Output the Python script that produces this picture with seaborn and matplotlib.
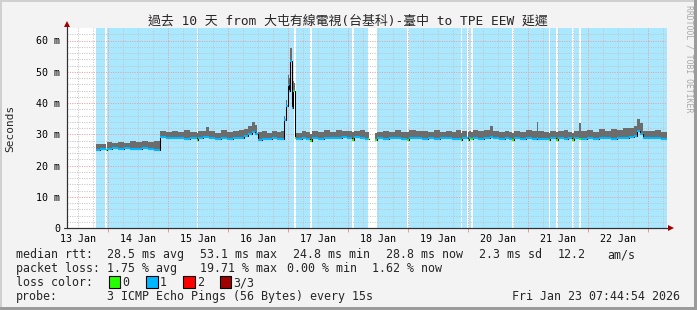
import numpy as np
import pandas as pd
import matplotlib
matplotlib.use("Agg")
import matplotlib.pyplot as plt
import matplotlib.dates as mdates
from matplotlib.patches import Rectangle
import seaborn as sns

# ---------------- data ----------------
start_time = "2026-01-13 07:44:54"
span_hours = 240
data_end_hours = 239.9
y_max_ms = 64

# segment start (hours since start), median rtt (ms), top of smoke (ms), loss level
seg_hours = [11.6, 13.2, 15.4, 15.8, 18.0, 20.4, 22.8, 25.2, 27.6, 30.0, 32.4, 34.8,
             37.0, 39.6, 42.0, 44.4, 46.8, 49.2, 51.9, 52.4, 54.4, 55.6, 56.8, 59.2,
             61.6, 64.0, 66.4, 68.8, 70.8, 72.4, 74.0, 75.2, 76.2, 78.0, 80.0, 82.0,
             84.0, 85.6, 86.9, 87.4, 88.2, 88.8, 89.2, 89.8, 90.2, 90.9, 91.3, 91.7,
             94.0, 95.6, 97.2, 97.9, 100.4, 102.8, 105.2, 107.6, 110.0, 112.0, 113.9, 114.8,
             117.2, 119.2, 120.5, 120.9, 123.2, 124.1, 126.4, 128.8, 131.2, 133.6, 136.1, 136.9,
             139.6, 142.0, 144.4, 146.8, 149.2, 151.6, 154.0, 155.6, 157.4, 158.0, 160.2, 160.8,
             161.6, 162.2, 164.4, 166.8, 169.0, 170.4, 172.8, 175.2, 176.8, 177.9, 178.8, 181.2,
             183.6, 186.0, 187.8, 188.4, 190.8, 192.8, 193.2, 195.6, 196.4, 198.8, 200.4, 201.9,
             202.7, 204.8, 205.4, 208.0, 210.4, 212.8, 215.2, 217.6, 220.0, 222.4, 224.8, 226.8,
             228.0, 229.2, 230.4, 232.8, 235.2, 237.6]
median_ms = [25.0, 25.3, 24.9, 25.2, 25.5, 25.3, 25.6, 25.4, 25.2, 25.6, 25.4, 25.0,
             29.0, 28.8, 28.7, 28.9, 28.6, 28.8, 28.3, 28.8, 29.0, 29.2, 28.7, 28.6,
             28.8, 28.6, 28.7, 28.9, 29.3, 30.0, 30.6, 30.2, 28.3, 28.5, 28.4, 28.7,
             28.5, 28.6, 34.6, 38.9, 45.8, 44.0, 53.3, 38.3, 43.7, 43.7, 28.7, 28.6,
             28.8, 28.5, 28.0, 28.7, 28.6, 28.9, 28.7, 28.8, 29.0, 28.9, 28.2, 29.0,
             28.8, 28.5, 28.6, np.nan, 28.3, 28.8, 28.6, 28.9, 28.7, 28.5, 28.3, 28.7,
             28.9, 28.6, 28.8, 28.5, 28.7, 28.9, 28.4, 28.6, 28.2, 28.7, 28.3, 28.8,
             28.4, 28.7, 28.6, 28.9, 29.1, 28.7, 28.6, 28.8, 28.5, 28.2, 28.7, 28.6,
             28.8, 28.5, 28.7, 28.6, 28.4, 28.3, 28.7, 28.2, 28.8, 28.6, 28.7, 28.2,
             28.8, 28.6, 28.6, 28.8, 28.5, 28.9, 28.7, 28.6, 28.9, 28.7, 29.0, 29.6,
             31.2, 30.0, 28.8, 28.7, 28.9, 28.6]
smoke_top_ms = [27.0, 26.8, 26.9, 27.4, 27.2, 27.6, 27.3, 27.8, 27.5, 28.0, 27.6, 27.9,
                31.0, 30.6, 31.2, 30.8, 31.4, 30.7, 30.4, 30.9, 31.2, 32.4, 31.0, 30.5,
                31.3, 30.6, 30.9, 31.4, 31.8, 32.8, 34.0, 33.0, 30.8, 31.2, 30.5, 31.0,
                30.7, 31.1, 36.0, 41.0, 49.0, 48.0, 57.5, 40.0, 47.0, 46.5, 30.6, 30.5,
                31.0, 30.6, 30.2, 31.2, 30.7, 31.3, 30.8, 31.5, 30.9, 31.2, 30.6, 31.0,
                31.4, 30.6, 30.8, np.nan, 30.5, 30.7, 31.0, 30.7, 31.3, 30.8, 30.6, 31.5,
                30.9, 31.2, 30.7, 31.4, 30.8, 31.1, 30.6, 31.3, 30.4, 31.0, 30.6, 31.2,
                30.8, 31.4, 30.9, 31.3, 32.8, 31.0, 30.6, 31.2, 30.7, 30.4, 31.1, 30.8,
                31.3, 30.9, 34.0, 31.0, 30.7, 30.5, 31.2, 30.6, 31.0, 31.4, 30.8, 30.5,
                31.2, 33.5, 31.0, 31.5, 30.8, 31.6, 31.0, 31.7, 31.4, 31.9, 32.0, 32.8,
                34.8, 33.5, 31.2, 30.9, 31.3, 30.8]
loss_level = [1, 1, 0, 1, 1, 1, 1, 1, 1, 1, 1, 1,
              1, 1, 1, 1, 1, 1, 0, 1, 1, 1, 1, 1,
              1, 1, 1, 1, 1, 1, 1, 1, 1, 1, 1, 1,
              1, 1, 1, 1, 1, 1, 1, 1, 1, 0, 0, 1,
              1, 1, 0, 1, 1, 1, 1, 1, 1, 1, 0, 1,
              1, 1, 0, 0, 0, 1, 1, 1, 1, 1, 0, 1,
              1, 1, 1, 1, 1, 1, 1, 1, 0, 1, 0, 1,
              0, 1, 1, 1, 1, 1, 1, 1, 1, 0, 1, 1,
              1, 1, 1, 1, 1, 0, 1, 0, 1, 1, 1, 0,
              1, 0, 1, 1, 1, 1, 1, 1, 1, 1, 1, 1,
              1, 1, 1, 1, 1, 1]

loss_colors = ["#26ff00", "#00b8ff", "#ff0000", "#a00000"]
loss_labels = ["0", "1", "2", "3/3"]

title_text = "過去 10 天 from 大屯有線電視(台基科)-臺中 to TPE EEW 延遲"
stats_rtt = ["median rtt:", "28.5 ms avg", "53.1 ms max", "24.8 ms min",
             "28.8 ms now", "2.3 ms sd", "12.2", "am/s"]
stats_loss = ["packet loss:", "1.75 % avg", "19.71 % max", "0.00 % min", "1.62 % now"]
probe_text = ["probe:", "3 ICMP Echo Pings (56 Bytes) every 15s"]
stamp_text = "Fri Jan 23 07:44:54 2026"

# ---------------- style ----------------
W, H = 697, 310
sns.set_theme(style="white")
plt.rcParams["font.family"] = ["DejaVu Sans Mono", "Noto Sans CJK TC"]

BG = "#f3f3f3"
LOSS_BG = "#aae8ff"
SMOKE = "#6c6c6c"
GRID_MINOR = "#c4c4c4"
GRID_MAJOR = "#f29a9a"
AXIS = "#303030"
ARROW = "#a00000"

fig = plt.figure(figsize=(W / 100, H / 100), dpi=100, facecolor=BG)
ax = fig.add_axes([67 / W, (H - 228) / H, 600 / W, 200 / H])
ax.set_facecolor("white")

t0 = pd.Timestamp(start_time)
h = np.array(seg_hours, float)
edges_h = np.append(h, data_end_hours)
x_edges = mdates.date2num(t0 + pd.to_timedelta(edges_h, unit="h"))
x0, x1 = x_edges[:-1], x_edges[1:]
med = np.array(median_ms, float)
top = np.array(smoke_top_ms, float)
loss = np.array(loss_level)

# loss background (merged runs)
runs = []
i = 0
while i < len(loss):
    if loss[i] >= 1:
        j = i
        while j + 1 < len(loss) and loss[j + 1] >= 1:
            j += 1
        runs.append((x0[i], x1[j]))
        i = j + 1
    else:
        i += 1
rs = np.array([r[0] for r in runs])
re_ = np.array([r[1] for r in runs])
ax.bar(rs, y_max_ms, width=re_ - rs, align="edge", bottom=0, color=LOSS_BG,
       linewidth=0, antialiased=False, zorder=1)

# grid (under the smoke), dotted 1px on / 1px off
x_start = mdates.date2num(t0)
x_end = mdates.date2num(t0 + pd.Timedelta(hours=span_hours))
for t in pd.date_range(t0.ceil("6h"), t0 + pd.Timedelta(hours=span_hours), freq="6h"):
    c = GRID_MAJOR if t.hour == 0 else GRID_MINOR
    ax.axvline(mdates.date2num(t), color=c, lw=0.72, ls=(0, (1, 1.4)), zorder=1.5)
for v in np.arange(2, y_max_ms, 2):
    c = GRID_MAJOR if v % 10 == 0 else GRID_MINOR
    ax.axhline(v, color=c, lw=0.72, ls=(0, (1, 1.4)), zorder=1.5)

# smoke
ax.bar(x0, top - med, width=x1 - x0, bottom=med, align="edge", color=SMOKE,
       linewidth=0, antialiased=False, zorder=2)

# median: black step line through seaborn, coloured by loss on top
rows = []
run_id = 0
prev_ok = False
for k in range(len(med)):
    if np.isnan(med[k]):
        if prev_ok:
            rows.append((x0[k], med[k - 1], run_id))
            run_id += 1
        prev_ok = False
        continue
    rows.append((x0[k], med[k], run_id))
    prev_ok = True
rows.append((x1[-1], med[-1], run_id))
df = pd.DataFrame(rows, columns=["x", "median", "run"])
sns.lineplot(data=df, x="x", y="median", units="run", estimator=None,
             drawstyle="steps-post", color="black", lw=0.75, ax=ax, zorder=4,
             legend=False)
ok = ~np.isnan(med)
cols = [loss_colors[l] for l in loss[ok]]
ax.hlines(med[ok], x0[ok], x1[ok], colors=cols, lw=1.5, zorder=5)

# axes
ax.set_xlim(x_start, x_end)
ax.set_ylim(0, y_max_ms)
ax.set_xlabel("")
ax.set_ylabel("")
ax.xaxis.set_major_locator(mdates.HourLocator(byhour=[12]))
ax.xaxis.set_major_formatter(mdates.DateFormatter("%d %b"))
ax.xaxis.set_minor_locator(mdates.DayLocator())
ax.set_yticks(np.arange(0, 61, 10))
ax.set_yticklabels(["0" if v == 0 else f"{v} m" for v in range(0, 61, 10)])
ax.tick_params(axis="x", which="major", length=0, pad=4, labelsize=7.2, colors="black")
ax.tick_params(axis="x", which="minor", length=3, width=0.72, color=GRID_MAJOR,
               direction="out", bottom=True)
ax.tick_params(axis="y", which="major", length=0, pad=5, labelsize=7.2, colors="black")
for s in ["top", "right"]:
    ax.spines[s].set_visible(False)
for s in ["left", "bottom"]:
    ax.spines[s].set_color(AXIS)
    ax.spines[s].set_linewidth(0.8)
    ax.spines[s].set_zorder(6)
ax.plot([0, 0], [0, 1.02], transform=ax.transAxes, color=AXIS, lw=0.8,
        clip_on=False, zorder=6)
ax.plot([-0.005, 1.005], [0, 0], transform=ax.transAxes, color=AXIS, lw=0.8,
        clip_on=False, zorder=6)
ax.plot([0], [1.022], marker="^", ms=4.5, color=ARROW, transform=ax.transAxes,
        clip_on=False, zorder=7, mew=0)
ax.plot([1.0065], [0], marker=">", ms=4.5, color=ARROW, transform=ax.transAxes,
        clip_on=False, zorder=7, mew=0)

# texts
def fx(px):
    return px / W

def fy(py):
    return 1 - py / H

fig.text(fx(347.5), fy(21), title_text, ha="center", va="center", fontsize=9.3)
fig.text(fx(10), fy(128), "Seconds", rotation=90, ha="center", va="center", fontsize=8)
fig.text(fx(688.5), fy(5), "RRDTOOL / TOBI OETIKER", rotation=270, ha="center",
         va="top", fontsize=5.9, color="#a8a8a8")

LFS = 8.4
rtt_x = [16, 107, 200, 293, 386, 479, 558, 607]
for s, px in zip(stats_rtt, rtt_x):
    fig.text(fx(px), fy(254.5), s, ha="left", va="center", fontsize=LFS)
loss_x = [16, 107, 200, 287, 372.5]
for s, px in zip(stats_loss, loss_x):
    fig.text(fx(px), fy(268.5), s, ha="left", va="center", fontsize=LFS)
fig.text(fx(16), fy(282.5), "loss color:", ha="left", va="center", fontsize=LFS)
box_x = [108.5, 146, 183, 219.5]
for c, lab, bx in zip(loss_colors, loss_labels, box_x):
    fig.patches.append(Rectangle((fx(bx), fy(287.5)), 11.5 / W, 11.5 / H,
                                 transform=fig.transFigure, facecolor=c,
                                 edgecolor="black", lw=0.8))
    fig.text(fx(bx + 14), fy(282.5), lab, ha="left", va="center", fontsize=LFS)
fig.text(fx(16), fy(296.5), probe_text[0], ha="left", va="center", fontsize=LFS)
fig.text(fx(107), fy(296.5), probe_text[1], ha="left", va="center", fontsize=LFS)
fig.text(fx(680), fy(296.5), stamp_text, ha="right", va="center", fontsize=LFS)

# frame
fig.patches.append(Rectangle((0, 1 - 2 / H), 1, 2 / H, transform=fig.transFigure,
                             facecolor="#d0d0d0", lw=0))
fig.patches.append(Rectangle((0, 0), 2 / W, 1, transform=fig.transFigure,
                             facecolor="#d0d0d0", lw=0))
fig.patches.append(Rectangle((0, 0), 1, 3 / H, transform=fig.transFigure,
                             facecolor="#9b9b9b", lw=0))
fig.patches.append(Rectangle((1 - 3 / W, 0), 3 / W, 1, transform=fig.transFigure,
                             facecolor="#9b9b9b", lw=0))

fig.savefig("out.png", dpi=100, facecolor=BG)
